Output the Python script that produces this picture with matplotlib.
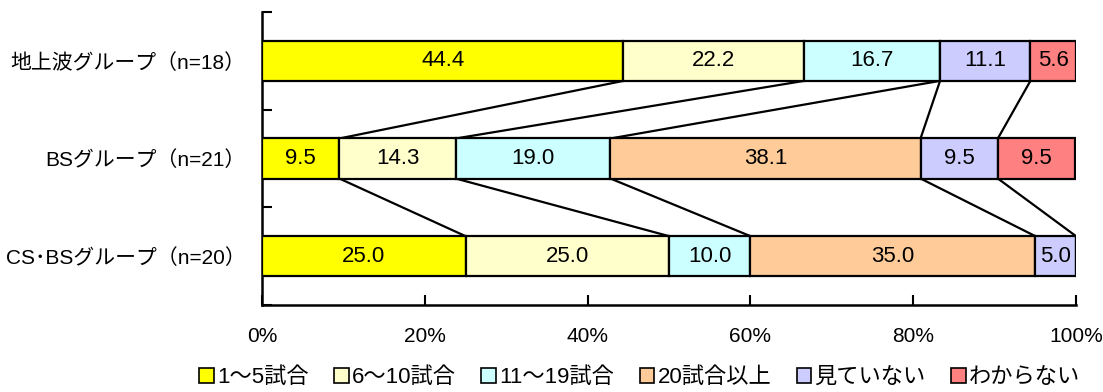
import matplotlib
matplotlib.use("Agg")
import matplotlib.pyplot as plt
from matplotlib.patches import Patch
import numpy as np

plt.rcParams['font.family'] = ['Liberation Sans', 'Noto Sans CJK JP', 'DejaVu Sans']

groups = ["地上波グループ（n=18）", "BSグループ（n=21）", "CS･BSグループ（n=20）"]
categories = ["1～5試合", "6～10試合", "11～19試合", "20試合以上", "見ていない", "わからない"]
colors = ["#FFFF00", "#FFFFCC", "#CCFFFF", "#FFCC99", "#CCCCFF", "#FF8080"]

# share (%) per group, one list per category
s_1_5 = [44.4, 9.5, 25.0]
s_6_10 = [22.2, 14.3, 25.0]
s_11_19 = [16.7, 19.0, 10.0]
s_20plus = [0.0, 38.1, 35.0]
s_none = [11.1, 9.5, 5.0]
s_unknown = [5.6, 9.5, 0.0]
series = [s_1_5, s_6_10, s_11_19, s_20plus, s_none, s_unknown]

fig = plt.figure(figsize=(11.03, 3.92), dpi=100)
ax = fig.add_axes([262 / 1103, 1 - 305 / 392, (1076 - 262) / 1103, (305 - 12) / 392])

y = np.arange(len(groups))
bar_h = 0.41
left = np.zeros(len(groups))
bounds = []
for vals, col, name in zip(series, colors, categories):
    vals = np.array(vals)
    ax.barh(y, vals, left=left, height=bar_h, color=col, edgecolor="black",
            linewidth=1.6, label=name, zorder=3)
    for yi, (l, v) in enumerate(zip(left, vals)):
        if v > 0:
            ax.text(l + v / 2, yi, f"{v:.1f}", ha="center", va="center",
                    fontsize=16, color="black", zorder=4)
    left = left + vals
    bounds.append(left.copy())

# connector lines between cumulative boundaries of adjacent bars
for b in bounds[:-1]:
    for i in range(len(groups) - 1):
        if b[i] >= 100 and b[i + 1] >= 100:
            continue
        ax.plot([b[i], b[i + 1]], [i + bar_h / 2, i + 1 - bar_h / 2],
                color="black", linewidth=1.6, zorder=2)

ax.set_xlim(0, 100)
ax.set_ylim(len(groups) - 0.5, -0.5)
for side in ("top", "right"):
    ax.spines[side].set_visible(False)
for side in ("left", "bottom"):
    ax.spines[side].set_linewidth(1.8)

ax.set_xticks(np.arange(0, 101, 20))
ax.set_xticklabels([f"{v}%" for v in range(0, 101, 20)], fontsize=15)
ax.tick_params(axis="x", direction="in", length=7, width=1.5, pad=16)

ax.set_yticks(y)
ax.set_yticklabels(groups, fontsize=15)
ax.tick_params(axis="y", which="major", length=0, pad=12)
ax.set_yticks(np.arange(-0.5, len(groups) + 0.5, 1), minor=True)
ax.tick_params(axis="y", which="minor", direction="in", length=7, width=1.5)

handles = [Patch(facecolor=c, edgecolor="black", linewidth=1.2) for c in colors]
fig.legend(handles, categories, loc="lower center", bbox_to_anchor=(0.58, -0.03),
           ncol=6, frameon=False, fontsize=16, handlelength=0.65, handleheight=0.65,
           handletextpad=0.15, columnspacing=1.15, borderpad=0.2)

fig.savefig("out.png", dpi=100)
